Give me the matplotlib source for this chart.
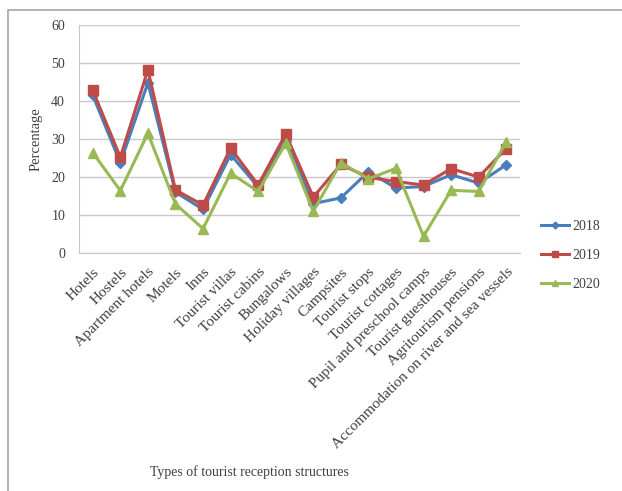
import matplotlib.pyplot as plt
from matplotlib.patches import Rectangle

categories = ['Hotels', 'Hostels', 'Apartment hotels', 'Motels', 'Inns',
              'Tourist villas', 'Tourist cabins', 'Bungalows', 'Holiday villages',
              'Campsites', 'Tourist stops', 'Tourist cottages',
              'Pupil and preschool camps', 'Tourist guesthouses',
              'Agritourism pensions', 'Accommodation on river and sea vessels']
y2018 = [41.5, 23.7, 44.8, 16.0, 11.5, 25.9, 17.4, 29.6, 13.0, 14.5, 21.4,
         17.1, 17.5, 20.6, 18.4, 23.2]
y2019 = [42.8, 25.2, 48.2, 16.6, 12.6, 27.6, 17.9, 31.3, 14.7, 23.3, 19.9,
         18.8, 17.9, 22.2, 20.0, 27.5]
y2020 = [26.4, 16.4, 31.5, 12.9, 6.4, 21.0, 16.2, 28.9, 11.0, 23.8, 19.5,
         22.3, 4.4, 16.5, 16.2, 29.2]

plt.rcParams['font.family'] = ['Liberation Serif', 'DejaVu Serif']

fig = plt.figure(figsize=(6.22, 4.91), dpi=100)
fig.patches.append(Rectangle((8 / 622, -0.1), 1.2, 1 - 10 / 491 + 0.1,
                             transform=fig.transFigure, fill=False,
                             edgecolor='#a6a6a6', linewidth=1.2))

ax = fig.add_axes([79 / 622, 1 - 253 / 491, 441 / 622, 228 / 491])
x = range(len(categories))
ax.plot(x, y2018, color='#4a7ebb', marker='D', markersize=5, linewidth=2.2,
        label='2018')
ax.plot(x, y2019, color='#be4b48', marker='s', markersize=7, linewidth=2.2,
        label='2019')
ax.plot(x, y2020, color='#98b954', marker='^', markersize=7, linewidth=2.2,
        label='2020')

ax.set_xlim(-0.5, len(categories) - 0.5)
ax.set_ylim(0, 60)
ax.set_yticks(range(0, 61, 10))
ax.set_xticks(list(x))
ax.set_xticklabels(categories, rotation=45, ha='right', rotation_mode='anchor',
                   fontsize=11, color='#404040')
ax.tick_params(axis='y', labelsize=10, labelcolor='#404040', length=0, pad=10)
ax.tick_params(axis='x', length=0, pad=9)
ax.yaxis.grid(True, color='#c8c8c8', linewidth=1)
ax.set_axisbelow(True)
for s in ['top', 'right']:
    ax.spines[s].set_visible(False)
ax.spines['left'].set_color('#c8c8c8')
ax.spines['bottom'].set_color('#c8c8c8')

ax.set_ylabel('Percentage', fontsize=10.5, color='#404040', labelpad=6)
fig.text(249 / 622, 1 - 472 / 491, 'Types of tourist reception structures',
         ha='center', va='center', fontsize=10, color='#404040')

ax.legend(loc='center left', bbox_to_anchor=(1.02, -0.01), frameon=False,
          fontsize=10, handlelength=2.0, labelspacing=1.15, handletextpad=0.2,
          labelcolor='#404040', markerscale=0.7)

fig.savefig('out.png', dpi=100)
